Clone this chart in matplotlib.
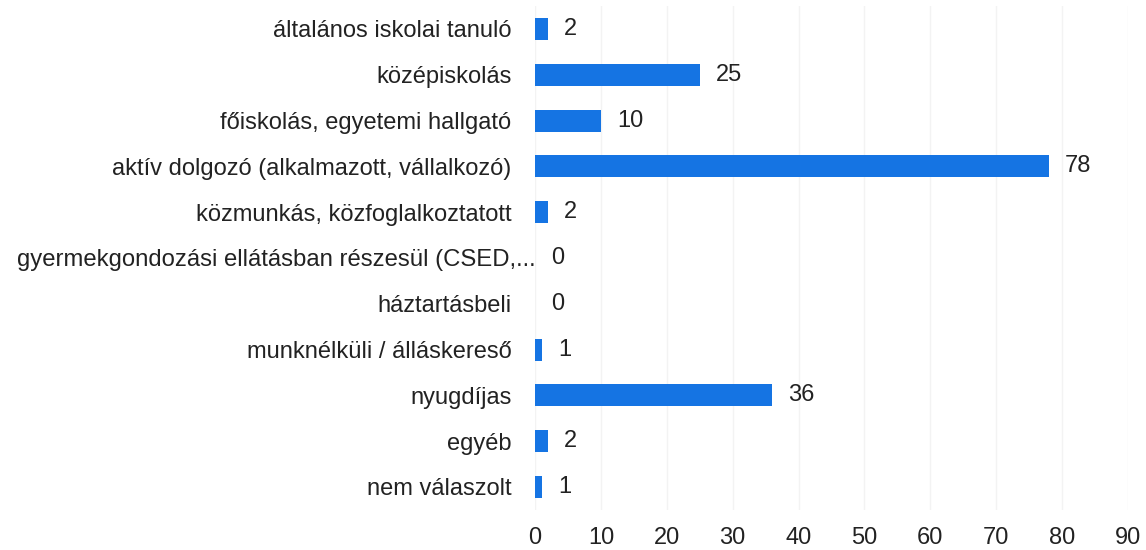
import matplotlib
matplotlib.use("Agg")
import matplotlib.pyplot as plt
from matplotlib.transforms import offset_copy, ScaledTranslation

categories = [
    "általános iskolai tanuló",
    "középiskolás",
    "főiskolás, egyetemi hallgató",
    "aktív dolgozó (alkalmazott, vállalkozó)",
    "közmunkás, közfoglalkoztatott",
    "gyermekgondozási ellátásban részesül (CSED,...",
    "háztartásbeli",
    "munknélküli / álláskereső",
    "nyugdíjas",
    "egyéb",
    "nem válaszolt",
]
values = [2, 25, 10, 78, 2, 0, 0, 1, 36, 2, 1]
xticks = [0, 10, 20, 30, 40, 50, 60, 70, 80, 90]

plt.rcParams['font.family'] = ['Liberation Sans', 'DejaVu Sans']

fig = plt.figure(figsize=(11.46, 5.5), dpi=100)
ax = fig.add_axes([0.467, 0.073, 0.517, 0.916])

y = list(range(len(categories)))
ax.barh(y, values, height=0.48, color="#1574e3", zorder=3)
ax.set_ylim(len(categories) - 0.5, -0.5)
ax.set_xlim(0, 90)
ax.set_yticks(y)
ax.set_yticklabels(categories, fontsize=17, color="#222222")
ax.set_xticks(xticks)
ax.set_xticklabels([str(t) for t in xticks], fontsize=17, color="#222222")
ax.tick_params(axis="y", length=0, pad=17)
ax.tick_params(axis="x", length=0, pad=12)
for s in ax.spines.values():
    s.set_visible(False)
ax.grid(axis="x", color="#f3f3f3", linewidth=1, zorder=0)

# the truncated long label sits closer to the axis in the reference
for lab in ax.get_yticklabels():
    if lab.get_text().endswith("..."):
        lab.set_fontsize(17.2)
        lab.set_transform(lab.get_transform() + ScaledTranslation(0.24, 0, fig.dpi_scale_trans))

trans = offset_copy(ax.transData, fig=fig, x=16, y=0, units="dots")
for yi, v in zip(y, values):
    ax.text(v, yi, str(v), transform=trans, va="center", ha="left",
            fontsize=17, color="#222222")

fig.savefig("out.png", dpi=100)
